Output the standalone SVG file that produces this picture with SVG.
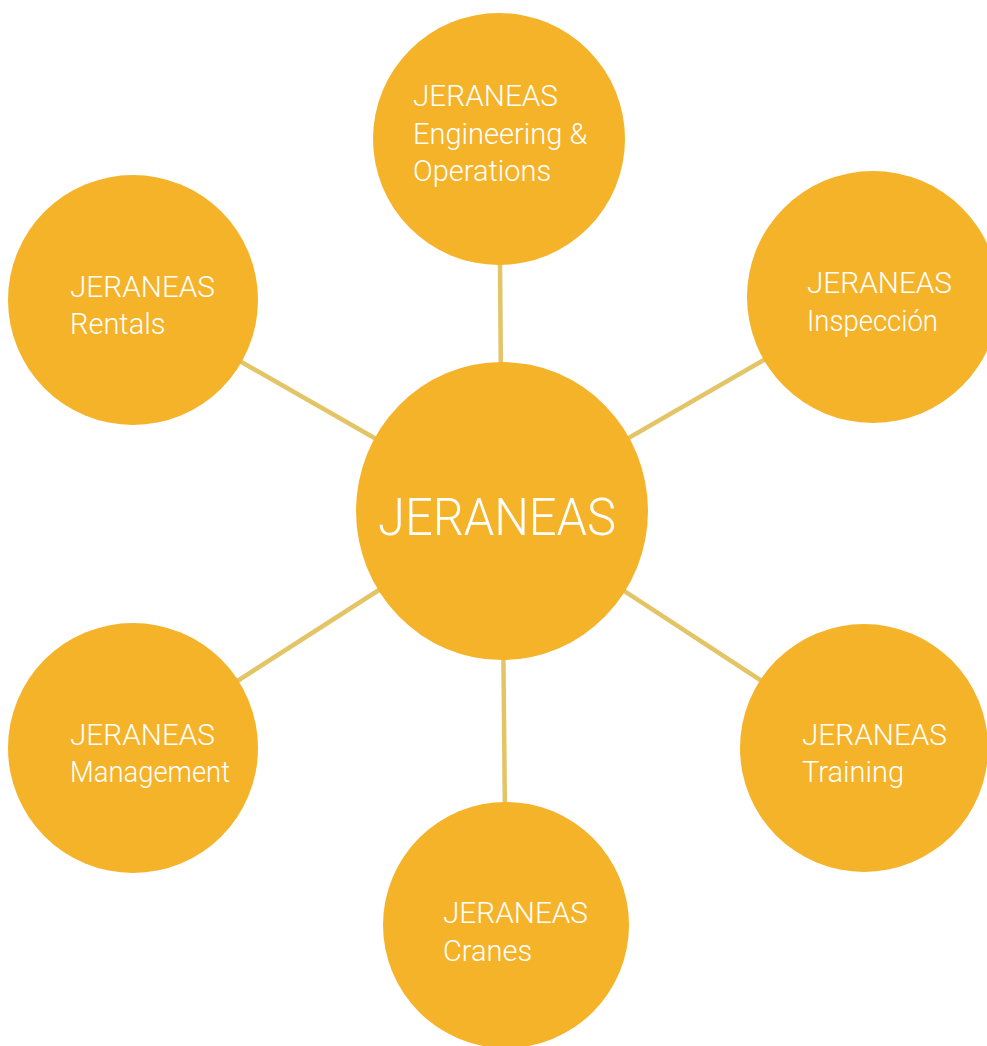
<svg xmlns="http://www.w3.org/2000/svg" width="987" height="1046" viewBox="0 0 987 1046">
<style>
.node{fill:#F5B329}
.conn{stroke:#E3C466;stroke-width:4.5;stroke-linecap:butt}
.lbl{fill:#FFFFFF;font-family:Roboto,"Liberation Sans",sans-serif;font-weight:300;font-size:29px}
.big{fill:#FFFFFF;font-family:Roboto,"Liberation Sans",sans-serif;font-weight:300;font-size:52px}
</style>
<rect width="987" height="1046" fill="#FFFFFF"/>
<g id="connectors">
<line class="conn" x1="502" y1="511" x2="499" y2="139"/>
<line class="conn" x1="502" y1="511" x2="873" y2="297"/>
<line class="conn" x1="502" y1="511" x2="133" y2="300"/>
<line class="conn" x1="502" y1="511" x2="133" y2="748"/>
<line class="conn" x1="502" y1="511" x2="864" y2="748"/>
<line class="conn" x1="502" y1="511" x2="506" y2="925"/>
</g>
<g id="center">
<ellipse class="node" cx="502" cy="511" rx="146" ry="149"/>
<text class="big" x="378" y="535" textLength="238" lengthAdjust="spacingAndGlyphs">JERANEAS</text>
</g>
<g id="engineering">
<circle class="node" cx="499" cy="139" r="126"/>
<text class="lbl" x="413" y="106" textLength="145" lengthAdjust="spacingAndGlyphs">JERANEAS</text>
<text class="lbl" x="413" y="144">Engineering &amp;</text>
<text class="lbl" x="413" y="181">Operations</text>
</g>
<g id="inspeccion">
<circle class="node" cx="873" cy="297" r="126"/>
<text class="lbl" x="807" y="293" textLength="145" lengthAdjust="spacingAndGlyphs">JERANEAS</text>
<text class="lbl" x="807" y="331" textLength="131" lengthAdjust="spacingAndGlyphs">Inspección</text>
</g>
<g id="rentals">
<circle class="node" cx="133" cy="300" r="125"/>
<text class="lbl" x="70" y="297" textLength="145" lengthAdjust="spacingAndGlyphs">JERANEAS</text>
<text class="lbl" x="70" y="334">Rentals</text>
</g>
<g id="management">
<circle class="node" cx="133" cy="748" r="125"/>
<text class="lbl" x="70" y="745" textLength="145" lengthAdjust="spacingAndGlyphs">JERANEAS</text>
<text class="lbl" x="70" y="782" textLength="160" lengthAdjust="spacingAndGlyphs">Management</text>
</g>
<g id="training">
<circle class="node" cx="864" cy="748" r="124"/>
<text class="lbl" x="802" y="745" textLength="145" lengthAdjust="spacingAndGlyphs">JERANEAS</text>
<text class="lbl" x="802" y="782">Training</text>
</g>
<g id="cranes">
<circle class="node" cx="506" cy="925" r="123"/>
<text class="lbl" x="443" y="923" textLength="145" lengthAdjust="spacingAndGlyphs">JERANEAS</text>
<text class="lbl" x="443" y="961">Cranes</text>
</g>
</svg>
